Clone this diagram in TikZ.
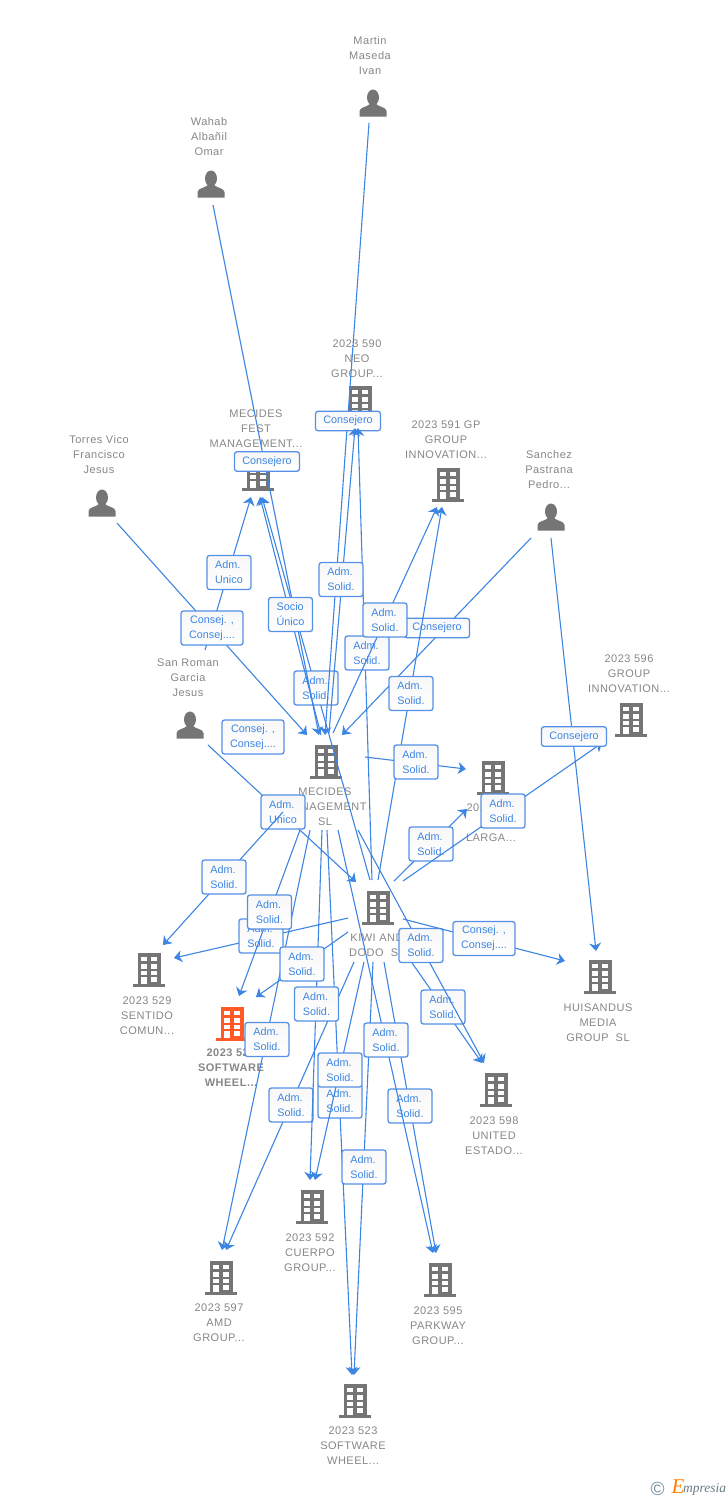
\documentclass[tikz,border=0pt]{standalone}
\usepackage{fontspec}
\setmainfont{Liberation Sans}
\newfontfamily\lblfont[LetterSpace=4.5]{Liberation Sans}
\newfontfamily\logofont[ItalicFont=Liberation Serif Italic]{Liberation Serif}
\usetikzlibrary{arrows.meta}
\definecolor{linkblue}{HTML}{3D85E3}
\definecolor{tagborder}{HTML}{5590E6}
\definecolor{icongray}{HTML}{757575}
\definecolor{textgray}{HTML}{868686}
\definecolor{hotorange}{HTML}{FF5A26}
\newcommand{\admsolid}{Adm.\\Solid.}
\newcommand{\consej}{Consej. ,\\Consej....}
%from node, offset, to node, offset, place of the tag, text
\newcommand{\conn}[7][adm]{%
  \draw[link] ([shift={(#3)}]#2.center) -- ([shift={(#5)}]#4.center)
    node[#1] (#2-#4) at (#6) {#7};
}
\tikzset{
  link/.style={linkblue,line width=1.1pt,-{Stealth[length=8pt,width=12pt,inset=2.5pt]}},
  tag/.style={draw=tagborder,line width=1.3pt,rounded corners=2.5pt,top color=black!3,bottom color=white,
    text=linkblue,inner sep=0pt,font=\fontsize{10.8}{15}\selectfont},
  adm/.style={tag,align=left,minimum width=44pt,minimum height=34pt},
  cons/.style={tag,align=center,minimum width=62pt,minimum height=34pt},
  one/.style={tag,align=center,minimum width=65pt,minimum height=19.5pt},
  lbl/.style={text=textgray,align=center,inner sep=0pt,font=\lblfont\fontsize{11}{15}\selectfont},
  buildingicon/.style={minimum width=32pt,minimum height=34pt,inner sep=0pt,
    path picture={
      \begin{scope}[shift={(path picture bounding box.center)}]
        \fill[#1] (-11.5,-17) rectangle (11.5,14);
        \fill[#1] (-16,13.5) rectangle (16,17);
        \fill[white] (-7.7,6.7) rectangle (-2,13.5);
        \fill[white] (2.3,7.3) rectangle (8.3,11.7);
        \foreach \wy in {-13.3,-6,0.7} {
          \fill[white] (-7.7,\wy) rectangle (-2,\wy+4.6);
          \fill[white] (2.3,\wy) rectangle (8.3,\wy+4.6);
        }
      \end{scope}
    }},
  personicon/.style={minimum width=28pt,minimum height=28pt,inner sep=0pt,
    path picture={
      \begin{scope}[shift={(path picture bounding box.center)}]
        \fill[icongray] (0,-5.5) ellipse (6 and 8);
        \fill[icongray] (-13.5,13.5) -- (-13.5,8) .. controls (-13,4) and (-6,4) .. (-3,1)
          -- (3,1) .. controls (6,4) and (13,4) .. (13.5,8) -- (13.5,13.5) -- cycle;
      \end{scope}
    }}
}
\begin{document}
\begin{tikzpicture}[x=1pt,y=-1pt]
\useasboundingbox (0,0) rectangle (728,1500);

%people
\foreach \nam/\x/\y/\lx/\ly/\txt in {
  martin/373/103/370/56/{Martin\\Maseda\\Ivan},
  wahab/211/184/209/137/{Wahab\\Albañil\\Omar},
  torres/102/503/99/455/{Torres Vico\\Francisco\\Jesus},
  sanroman/190/725/188/678/{San Roman\\Garcia\\Jesus},
  sanchez/551/517/549/470/{Sanchez\\Pastrana\\Pedro...}}{
  \node[personicon] (\nam) at (\x,\y) {};
  \node[lbl] (\nam lab) at (\lx,\ly) {\txt};
}

%companies
\foreach \nam/\x/\y/\lx/\ly/\txt in {
  neo/360/403/357/359/{2023 590\\NEO\\GROUP...},
  fest/258/474/256/429/{MECIDES\\FEST\\MANAGEMENT...},
  gpgroup/448/485/446/440/{2023 591 GP\\GROUP\\INNOVATION...},
  innovation/631/720/629/674/{2023 596\\GROUP\\INNOVATION...},
  via/493/778/491/823/{2023 594\\VIA\\LARGA...},
  mecides/326/762/325/807/{MECIDES\\MANAGEMENT\\SL},
  kiwi/378/908/377/945.5/{KIWI AND\\DODO~~SL},
  sentido/149/970/147/1016/{2023 529\\SENTIDO\\COMUN...},
  united/496/1090/494/1136/{2023 598\\UNITED\\ESTADO...},
  huisandus/600/977/598/1023/{HUISANDUS\\MEDIA\\GROUP~~SL},
  cuerpo/312/1207/310/1253/{2023 592\\CUERPO\\GROUP...},
  amd/221/1278/219/1323/{2023 597\\AMD\\GROUP...},
  parkway/440/1280/438/1326/{2023 595\\PARKWAY\\GROUP...},
  wheel/355/1401/353/1446/{2023 523\\SOFTWARE\\WHEEL...}}{
  \node[buildingicon=icongray] (\nam) at (\x,\y) {};
  \node[lbl] (\nam lab) at (\lx,\ly) {\txt};
}
\node[buildingicon=hotorange] (software) at (232,1024) {};
\node[lbl,font=\lblfont\fontsize{11}{15}\selectfont\bfseries] (softwarelab) at (231,1068) {2023 524\\SOFTWARE\\WHEEL...};

%connectors, later ones lie over the tags of earlier ones
\conn[one]{sanchez}{-20,21}{mecides}{16,-27}{437,628}{Consejero}
\conn{sanroman}{15,-75}{fest}{-7,23}{229,572.5}{Adm.\\Unico}
\conn[cons]{torres}{15,20}{mecides}{-19,-27}{212,628}{\consej}
\node[cons] (sanromantag) at (253,737) {\consej};
\conn{kiwi}{-8,-28}{fest}{4,23}{316,688}{\admsolid}
\conn[one]{wahab}{2,21}{mecides}{-7,-27}{267,461.5}{Consejero}
\conn[one]{martin}{-4,20}{mecides}{-1,-27}{348,421}{Consejero}
\conn{mecides}{-5,-27}{fest}{2,23}{290.5,614.5}{Socio\\Único}
\conn{kiwi}{-6,-28}{neo}{-2,25}{367,653}{\admsolid}
\conn{mecides}{3,-29}{neo}{-5,25}{341,579.5}{\admsolid}
\conn{kiwi}{0,-28}{gpgroup}{-6,22}{411,693.5}{\admsolid}
\conn{mecides}{7,-29}{gpgroup}{-11,22}{385,620}{\admsolid}
\conn{mecides}{39,-5}{via}{-27,-9}{416,762}{\admsolid}
\conn{sanroman}{18,20}{kiwi}{-22,-26}{283,812}{Adm.\\Unico}
\conn{mecides}{-43,50}{sentido}{14,-25}{224,877}{\admsolid}
\conn{kiwi}{-30,10}{sentido}{25,-12}{261,936}{\admsolid}
\conn{kiwi}{16,-27}{via}{-26,31}{431,844}{\admsolid}
\conn{kiwi}{25,-27}{innovation}{-29,23}{503,811}{\admsolid}
\conn{kiwi}{25,42}{united}{-14,-27}{443,1007}{\admsolid}
\conn{mecides}{32,68}{united}{-12,-27}{421,945.5}{\admsolid}
\conn[cons]{kiwi}{25,11}{huisandus}{-35,-16}{484,938.5}{\consej}
\conn[one]{sanchez}{0,21}{huisandus}{-4,-26}{574,736.5}{Consejero}
\conn{mecides}{1,68}{wheel}{-3,-26}{340,1101}{\admsolid}
\conn{kiwi}{-24,54}{amd}{5,-28}{291,1105}{\admsolid}
\conn{mecides}{-16,68}{amd}{1,-28}{267,1039.5}{\admsolid}
\conn{mecides}{-4,68}{cuerpo}{-2,-27}{316.5,1004}{\admsolid}
\conn{kiwi}{-30,24}{software}{24,-27}{302,964}{\admsolid}
\conn{mecides}{-26,68}{software}{7,-28}{269.5,912}{\admsolid}
\conn{kiwi}{-14,54}{cuerpo}{3,-27}{340,1070}{\admsolid}
\conn{kiwi}{-5,54}{wheel}{-1,-26}{364,1167}{\admsolid}
\conn{kiwi}{6,54}{parkway}{-4,-27}{410,1106}{\admsolid}
\conn{mecides}{12,68}{parkway}{-7,-27}{386,1040}{\admsolid}

%logo
\node[text=black!35!cyan!45!gray,inner sep=0pt,font=\fontsize{19}{19}\selectfont] (logoc) at (657.5,1488.5) {©};
\node[text=orange,inner sep=0pt,font=\logofont\itshape\fontsize{21}{21}\selectfont] (logoe) at (678,1487) {E};
\node[text=black!60!cyan!50!gray,inner sep=0pt,anchor=west,font=\logofont\itshape\fontsize{13.5}{14}\selectfont] (logotxt) at (683,1489) {mpresia};
\end{tikzpicture}
\end{document}
